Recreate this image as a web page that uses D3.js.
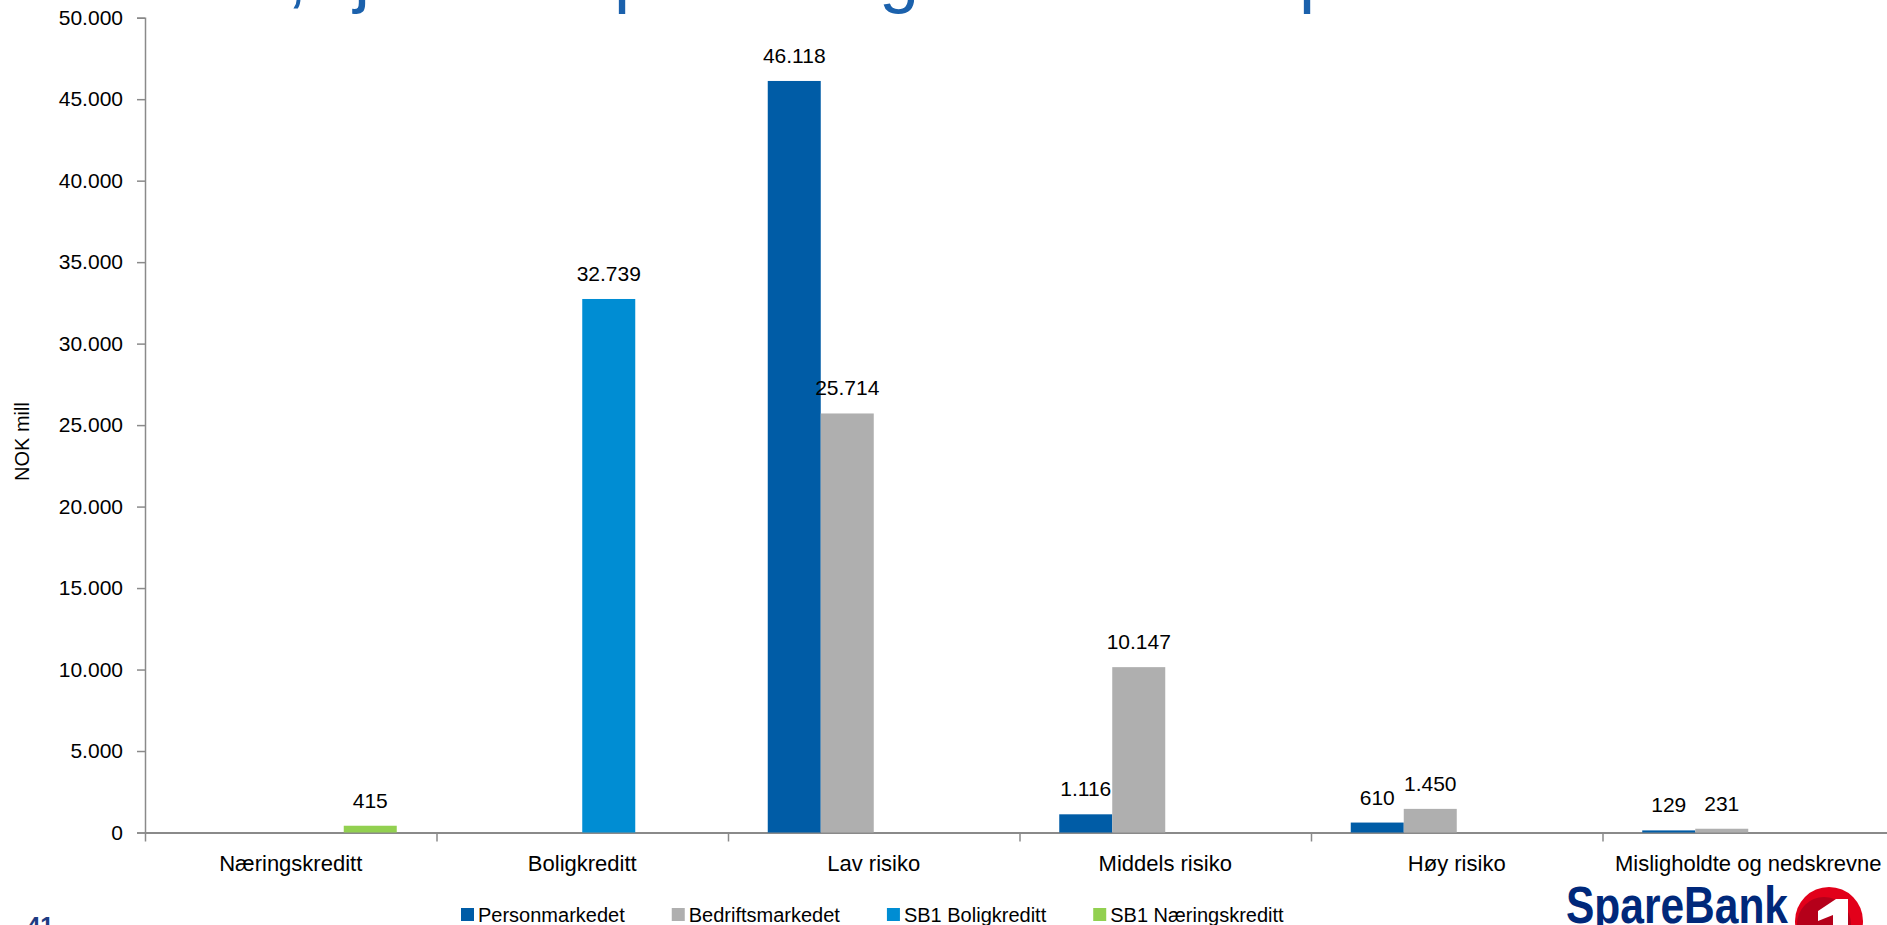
<!DOCTYPE html>
<html>
<head>
<meta charset="utf-8">
<script src="https://cdn.jsdelivr.net/npm/d3@7"></script>
<style>
  html, body { margin: 0; padding: 0; background: #fff; overflow: hidden; }
  svg { display: block; }
  text { font-family: "Liberation Sans", Arial, sans-serif; }
</style>
</head>
<body>
<svg id="chart" width="1887" height="925"></svg>
<script>
// ---- Data ----
const categories = ["Næringskreditt", "Boligkreditt", "Lav risiko", "Middels risiko", "Høy risiko", "Misligholdte og nedskrevne"];
const seriesNames = ["Personmarkedet", "Bedriftsmarkedet", "SB1 Boligkreditt", "SB1 Næringskreditt"];
const personmarkedet     = [null, null, 46118, 1116, 610, 129];
const bedriftsmarkedet   = [null, null, 25714, 10147, 1450, 231];
const sb1Boligkreditt    = [null, 32739, null, null, null, null];
const sb1Naeringskreditt = [415, null, null, null, null, null];
const yTickValues = [0, 5000, 10000, 15000, 20000, 25000, 30000, 35000, 40000, 45000, 50000];
const yAxisTitle = "NOK mill";
const pageNumber = "41";
const titleFragments = [",", "j", "p", "g", "p"];

const seriesValues = [personmarkedet, bedriftsmarkedet, sb1Boligkreditt, sb1Naeringskreditt];
const seriesColors = ["#005CA6", "#AFAFAF", "#008DD3", "#92D050"];

(function () {
// ---- Layout ----
const svg = d3.select("#chart");
const plotLeft = 145, plotTop = 17.7, plotBottom = 832.5;
const step = 291.5;
const plotRight = plotLeft + step * categories.length;

const locale = d3.formatLocale({ decimal: ",", thousands: ".", grouping: [3], currency: ["", ""] });
const fmt = locale.format(",.0f");

const x0 = d3.scaleBand().domain(categories).range([plotLeft, plotRight]).paddingInner(0).paddingOuter(0);
const x1 = d3.scaleBand().domain(seriesNames).range([0, x0.bandwidth()]).paddingInner(0).paddingOuter(0.75);
const y = d3.scaleLinear().domain([0, 50000]).range([plotBottom, plotTop]);

// Title fragments (cut off at top of slide)
const titleX = [287, 354, 614, 879, 1299];
svg.append("g").selectAll("text").data(titleFragments).join("text")
  .attr("x", (d, i) => titleX[i]).attr("y", -1)
  .attr("font-size", 72).attr("fill", "#1B61AC")
  .text(d => d);

// Y axis
const yAxis = d3.axisLeft(y).tickValues(yTickValues).tickSize(8).tickPadding(14).tickFormat(fmt);
const gy = svg.append("g").attr("transform", `translate(${plotLeft},0)`).call(yAxis);
gy.select(".domain").attr("stroke", "#8A8A8A").attr("stroke-width", 1.5);
gy.selectAll(".tick line").attr("stroke", "#8A8A8A").attr("stroke-width", 1.5);
gy.selectAll(".tick text").attr("font-size", 21).attr("fill", "#000")
  .attr("font-family", '"Liberation Sans", Arial, sans-serif');

// X axis (band boundaries ticks)
const xb = d3.scaleLinear().domain([0, categories.length]).range([plotLeft, plotRight]);
const xAxis = d3.axisBottom(xb).tickValues(d3.range(categories.length + 1)).tickSize(9).tickSizeOuter(0).tickFormat("");
const gx = svg.append("g").attr("transform", `translate(0,${plotBottom})`).call(xAxis);
gx.select(".domain").attr("stroke", "#8A8A8A").attr("stroke-width", 2);
gx.selectAll(".tick line").attr("stroke", "#8A8A8A").attr("stroke-width", 1.5);

// Category labels
svg.append("g").selectAll("text").data(categories).join("text")
  .attr("x", d => x0(d) + x0.bandwidth() / 2)
  .attr("y", 871)
  .attr("text-anchor", "middle").attr("font-size", 22).attr("fill", "#000")
  .text(d => d);

// Bars
const barData = [];
categories.forEach((c, ci) => {
  seriesNames.forEach((s, si) => {
    const v = seriesValues[si][ci];
    if (v != null) barData.push({ c, s, si, v });
  });
});
svg.append("g").selectAll("rect").data(barData).join("rect")
  .attr("x", d => x0(d.c) + x1(d.s))
  .attr("width", x1.bandwidth())
  .attr("y", d => y(d.v))
  .attr("height", d => y(0) - y(d.v))
  .attr("fill", d => seriesColors[d.si]);

// Data labels
svg.append("g").selectAll("text").data(barData).join("text")
  .attr("x", d => x0(d.c) + x1(d.s) + x1.bandwidth() / 2)
  .attr("y", d => y(d.v) - 18)
  .attr("text-anchor", "middle").attr("font-size", 21).attr("fill", "#000")
  .text(d => fmt(d.v));

// Y axis title
svg.append("text")
  .attr("transform", "translate(29,441.5) rotate(-90)")
  .attr("text-anchor", "middle").attr("font-size", 20).attr("fill", "#000")
  .text(yAxisTitle);

// Legend
const legend = svg.append("g");
let lx = 461;
seriesNames.forEach((s, i) => {
  legend.append("rect").attr("x", lx).attr("y", 908).attr("width", 13).attr("height", 13).attr("fill", seriesColors[i]);
  const t = legend.append("text").attr("x", lx + 17).attr("y", 921.5).attr("font-size", 20).attr("fill", "#000").text(s);
  const w = t.node().getComputedTextLength();
  lx = lx + 17 + w + 47;
});

// Page number
svg.append("text").attr("x", 27).attr("y", 934).attr("font-size", 24).attr("font-weight", "bold")
  .attr("fill", "#1E3C82").text(pageNumber);

// Logo
const logo = svg.append("g");
logo.append("text").attr("x", 1566).attr("y", 923).attr("font-size", 52).attr("font-weight", "bold")
  .attr("fill", "#00287A").attr("textLength", 222).attr("lengthAdjust", "spacingAndGlyphs").text("SpareBank");
logo.append("circle").attr("cx", 1829).attr("cy", 921).attr("r", 34).attr("fill", "#E2001A");
logo.append("circle").attr("cx", 1824).attr("cy", 924).attr("r", 27).attr("fill", "#B5001A");
logo.append("path")
  .attr("d", "M1818,911 L1836,899 L1848,899 L1848,940 L1833,940 L1833,915 L1818,921 Z")
  .attr("fill", "#fff");
})();
</script>
</body>
</html>
